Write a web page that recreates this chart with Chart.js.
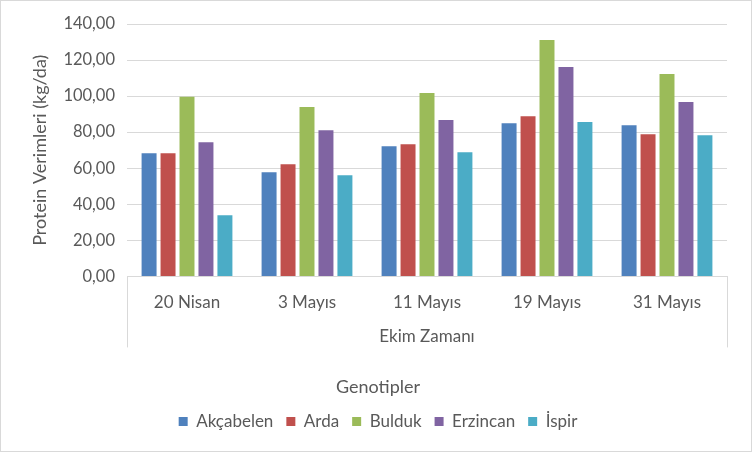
<!DOCTYPE html>
<html>
<head>
<meta charset="utf-8">
<script src="https://cdn.jsdelivr.net/npm/chart.js@4/dist/chart.umd.min.js"></script>
<style>
  body { margin: 0; background: #fff; }
  #wrap { width: 750px; height: 450px; border: 1px solid #d9d9d9; }
</style>
</head>
<body>
<div id="wrap"><canvas id="chart" width="750" height="450"></canvas></div>
<script>
// Ekim zamanlari (categories)
const ekimZamani = ["20 Nisan", "3 Mayıs", "11 Mayıs", "19 Mayıs", "31 Mayıs"];

// Protein verimleri per genotip (kg/da)
const akcabelen = [68.3, 57.8, 72.2, 85.0, 83.9];
const arda = [68.3, 62.2, 73.3, 88.9, 78.9];
const bulduk = [99.6, 93.9, 101.7, 131.1, 112.2];
const erzincan = [74.4, 81.1, 86.7, 116.1, 96.7];
const ispir = [33.9, 56.1, 68.9, 85.6, 78.3];

const genotipler = ["Akçabelen", "Arda", "Bulduk", "Erzincan", "İspir"];
const renkler = ["#4F81BD", "#C0504D", "#9BBB59", "#8064A2", "#4BACC6"];
const seriler = [akcabelen, arda, bulduk, erzincan, ispir];

const font = "Lato, 'Open Sans', sans-serif";
const gray = "#595959";

// draws the side lines of the category box under the plot, like Excel
const axisBox = {
  id: "axisBox",
  afterDraw(chart) {
    const { ctx, chartArea } = chart;
    const h = chart.scales.x.height;
    ctx.save();
    ctx.strokeStyle = "#d9d9d9";
    ctx.lineWidth = 1;
    ctx.beginPath();
    ctx.moveTo(Math.round(chartArea.left) + 0.5, chartArea.bottom);
    ctx.lineTo(Math.round(chartArea.left) + 0.5, chartArea.bottom + h);
    ctx.moveTo(Math.round(chartArea.right) + 0.5, chartArea.bottom);
    ctx.lineTo(Math.round(chartArea.right) + 0.5, chartArea.bottom + h);
    ctx.stroke();
    ctx.restore();
  }
};

new Chart(document.getElementById("chart"), {
  type: "bar",
  data: {
    labels: ekimZamani,
    datasets: genotipler.map((g, i) => ({
      label: g,
      data: seriler[i],
      backgroundColor: renkler[i],
      categoryPercentage: 0.79,
      barPercentage: 0.79
    }))
  },
  options: {
    responsive: false,
    animation: false,
    layout: { padding: { top: 23, right: 24, left: 28, bottom: 11 } },
    plugins: {
      tooltip: { enabled: false },
      legend: {
        position: "bottom",
        title: {
          display: true,
          text: "Genotipler",
          color: gray,
          font: { family: font, size: 18 },
          padding: { top: 31, bottom: 0 }
        },
        labels: {
          boxWidth: 9,
          boxHeight: 9,
          color: gray,
          padding: 13,
          font: { family: font, size: 17 }
        }
      }
    },
    scales: {
      x: {
        grid: { display: false },
        border: { color: "#d9d9d9" },
        ticks: { color: gray, font: { family: font, size: 17 }, padding: 8 },
        title: {
          display: true,
          text: "Ekim Zamanı",
          color: gray,
          font: { family: font, size: 17 },
          padding: { top: 10, bottom: 1 }
        },
        afterFit(scale) { scale.height = 71; }
      },
      y: {
        min: 0,
        max: 140,
        ticks: {
          stepSize: 20,
          color: gray,
          padding: 12,
          font: { family: font, size: 16.5 },
          callback: v => v.toFixed(2).replace(".", ",")
        },
        grid: { color: "#d9d9d9", drawTicks: false },
        border: { display: false },
        title: {
          display: true,
          text: "Protein Verimleri (kg/da)",
          color: gray,
          font: { family: font, size: 18 },
          padding: { top: 0, bottom: 4 }
        },
        afterFit(scale) { scale.width = 98; }
      }
    }
  },
  plugins: [axisBox]
});
</script>
</body>
</html>
